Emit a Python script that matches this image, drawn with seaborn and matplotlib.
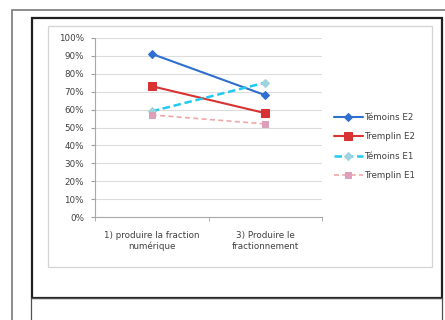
import matplotlib
matplotlib.use("Agg")
import matplotlib.pyplot as plt
import seaborn as sns
import pandas as pd
from matplotlib.patches import Rectangle
from matplotlib.ticker import FixedLocator, PercentFormatter

categories = ["1) produire la fraction\nnumérique", "3) Produire le\nfractionnement"]
temoins_e2 = [0.91, 0.68]
tremplin_e2 = [0.73, 0.58]
temoins_e1 = [0.59, 0.75]
tremplin_e1 = [0.57, 0.52]
series_names = ["Témoins E2", "Tremplin E2", "Témoins E1", "Tremplin E1"]
y_ticks = [i / 10 for i in range(11)]

sns.set_style("white")
plt.rcParams['font.family'] = ['DejaVu Sans']

fig = plt.figure(figsize=(4.45, 3.2), dpi=100)
W, H = 445, 320

def rect(x0, y0, x1, y1, **kw):
    fig.patches.append(Rectangle((x0 / W, 1 - y1 / H), (x1 - x0) / W, (y1 - y0) / H,
                                 transform=fig.transFigure, fill=False, **kw))

rect(12, 10, 460, 340, edgecolor="#7a7a7a", linewidth=1.2)
rect(32, 18, 442, 298, edgecolor="#202020", linewidth=1.6)
rect(31, 298, 442, 330, edgecolor="#505050", linewidth=0.9)
rect(48.3, 25.7, 431.7, 266.7, edgecolor="#d4d4d4", linewidth=0.9)

ax = fig.add_axes([95 / W, 1 - 217.3 / H, (322 - 95) / W, (217.3 - 37.7) / H])

df = pd.DataFrame({"cat": categories, "pos": [0, 1]})
styles = [
    dict(color="#2f6fd0", marker="D", markersize=4, linestyle="-", linewidth=1.5, mfc="#2f6fd0", mec="#2f6fd0"),
    dict(color="#d93232", marker="s", markersize=6, linestyle="-", linewidth=1.5, mfc="#d93232", mec="#d93232"),
    dict(color="#1ecbf2", marker="D", markersize=4, linestyle=(0, (3, 1.5)), linewidth=1.8, mfc="#9fd3dd", mec="#9fd3dd"),
    dict(color="#f2a6a6", marker="s", markersize=5, linestyle=(0, (3, 2)), linewidth=1.2, mfc="#dca0bb", mec="#dca0bb"),
]
for name, vals, st in zip(series_names, [temoins_e2, tremplin_e2, temoins_e1, tremplin_e1], styles):
    d = df.copy()
    d["val"] = vals
    sns.lineplot(data=d, x="pos", y="val", ax=ax, label=name, **st)

ax.set_xlim(-0.5, 1.5)
ax.set_ylim(0, 1)
ax.set_xlabel("")
ax.set_ylabel("")
ax.yaxis.set_major_locator(FixedLocator(y_ticks))
ax.yaxis.set_major_formatter(PercentFormatter(1.0, decimals=0))
ax.set_xticks([0, 1])
ax.set_xticklabels(categories)
ax.xaxis.set_minor_locator(FixedLocator([-0.5, 0.5, 1.5]))
ax.tick_params(axis="x", which="major", length=0, labelsize=6.3, colors="#404040", pad=10)
ax.tick_params(axis="x", which="minor", length=3, color="#a0a0a0", direction="out", bottom=True)
ax.tick_params(axis="y", which="major", length=3, color="#a0a0a0", labelsize=6.3, labelcolor="#404040", left=True, pad=5)
ax.grid(axis="y", color="#dcdcdc", linewidth=0.8)
for s in ["top", "right"]:
    ax.spines[s].set_visible(False)
for s in ["left", "bottom"]:
    ax.spines[s].set_color("#a8a8a8")
    ax.spines[s].set_linewidth(0.8)

leg = ax.legend(loc="center left", bbox_to_anchor=(334 / W, 1 - 146.5 / H), bbox_transform=fig.transFigure,
                frameon=False, fontsize=6.3, handlelength=3.3, handletextpad=0.15, labelspacing=1.2,
                borderaxespad=0, borderpad=0)
for t in leg.get_texts():
    t.set_color("#404040")

fig.savefig("out.png", dpi=100)
